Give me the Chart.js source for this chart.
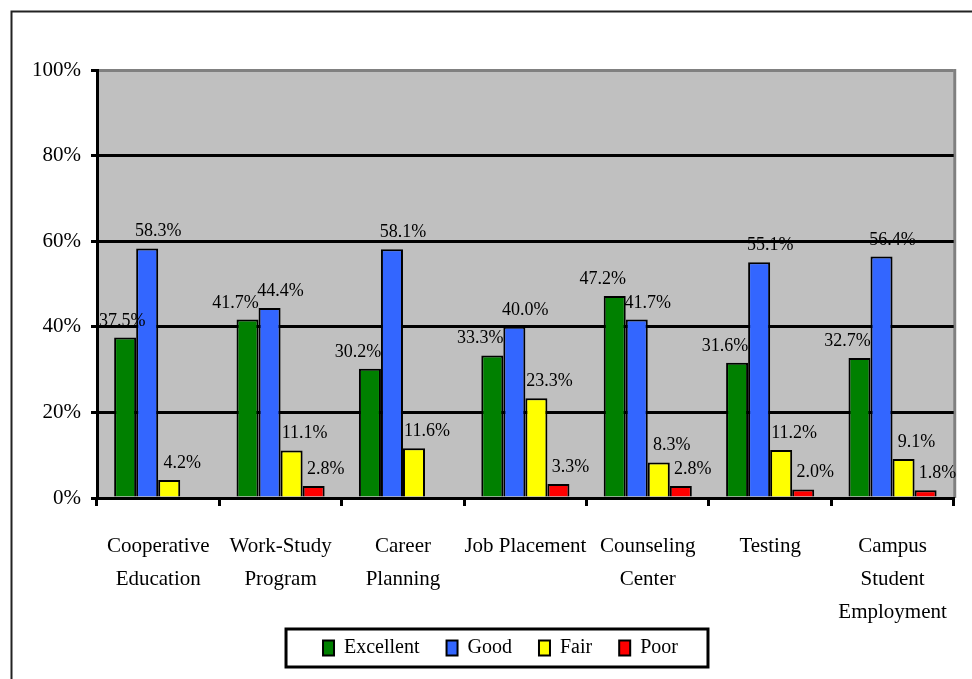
<!DOCTYPE html>
<html lang="en">
<head>
  <meta charset="UTF-8">
  <title>Service Ratings</title>
  <script src="https://cdn.jsdelivr.net/npm/chart.js"></script>
  <style>
    html, body { margin: 0; padding: 0; background: #fff; }
    canvas { display: block; }
  </style>
</head>
<body>
  <canvas id="ratingChart" width="972" height="679"></canvas>

  <script>
    const categories = [
      ['Cooperative', 'Education'],
      ['Work-Study', 'Program'],
      ['Career', 'Planning'],
      'Job Placement',
      ['Counseling', 'Center'],
      'Testing',
      ['Campus', 'Student', 'Employment']
    ];
    const excellent = [37.5, 41.7, 30.2, 33.3, 47.2, 31.6, 32.7];
    const good = [58.3, 44.4, 58.1, 40.0, 41.7, 55.1, 56.4];
    const fair = [4.2, 11.1, 11.6, 23.3, 8.3, 11.2, 9.1];
    const poor = [null, 2.8, null, 3.3, 2.8, 2.0, 1.8];
    const yMax = 100;
    const yStep = 20;

    const serif = '"Liberation Serif", "Times New Roman", serif';

    // gray plot area and the thin outer frame
    const backdrop = {
      id: 'backdrop',
      beforeDraw(chart) {
        const { ctx, chartArea: a } = chart;
        ctx.save();
        ctx.fillStyle = '#c0c0c0';
        ctx.fillRect(a.left, a.top, a.right - a.left, a.bottom - a.top);
        ctx.strokeStyle = '#222';
        ctx.lineWidth = 2;
        ctx.beginPath();
        ctx.moveTo(11.5, chart.height);
        ctx.lineTo(11.5, 11.5);
        ctx.lineTo(chart.width, 11.5);
        ctx.stroke();
        ctx.strokeStyle = '#808080';
        ctx.lineWidth = 3;
        ctx.beginPath();
        ctx.moveTo(a.right + 1, a.top - 1);
        ctx.lineTo(a.right + 1, a.bottom);
        ctx.stroke();
        ctx.restore();
      }
    };

    // nudge the legend up into the space under the axis labels
    const legendNudge = {
      id: 'legendNudge',
      afterLayout(chart) {
        const lg = chart.legend;
        lg.left += 11; lg.right += 11;
        lg.top -= 13; lg.bottom -= 13;
      }
    };

    // value labels above bars
    const valueLabels = {
      id: 'valueLabels',
      afterDatasetsDraw(chart) {
        const { ctx, chartArea: a } = chart;
        ctx.save();
        ctx.font = '18px ' + serif;
        ctx.fillStyle = '#000';
        ctx.textBaseline = 'alphabetic';
        ctx.textAlign = 'left';
        chart.data.datasets.forEach((ds, i) => {
          chart.getDatasetMeta(i).data.forEach((bar, j) => {
            const v = ds.data[j];
            if (v == null) return;
            const txt = v.toFixed(1) + '%';
            const w = ctx.measureText(txt).width;
            let x = bar.x + ds.labelShift - w / 2;
            if (x < a.left + 2) x = a.left + 2;
            ctx.fillText(txt, x, bar.y - 12);
          });
        });
        ctx.restore();
      }
    };

    // black frame round the legend
    const legendFrame = {
      id: 'legendFrame',
      afterDraw(chart) {
        const hb = chart.legend.legendHitBoxes;
        if (!hb || !hb.length) return;
        const l = Math.min(...hb.map(b => b.left));
        const r = Math.max(...hb.map(b => b.left + b.width));
        const mid = hb[0].top + hb[0].height / 2;
        const ctx = chart.ctx;
        ctx.save();
        ctx.strokeStyle = '#000';
        ctx.lineWidth = 3;
        ctx.strokeRect(l - 37, mid - 19, r - l + 67, 38);
        ctx.restore();
      }
    };

    const barStyle = {
      borderColor: '#000',
      borderWidth: 2,
      borderSkipped: 'start',
      categoryPercentage: 0.72,
      barPercentage: 1
    };

    new Chart(document.getElementById('ratingChart'), {
      type: 'bar',
      data: {
        labels: categories,
        datasets: [
          { label: 'Excellent', data: excellent, backgroundColor: '#008000', labelShift: -12, ...barStyle },
          { label: 'Good', data: good, backgroundColor: '#3366ff', labelShift: 11, ...barStyle },
          { label: 'Fair', data: fair, backgroundColor: '#ffff00', labelShift: 13, ...barStyle },
          { label: 'Poor', data: poor, backgroundColor: '#ff0000', labelShift: 12, ...barStyle }
        ]
      },
      options: {
        responsive: false,
        animation: false,
        layout: { padding: { left: 24, right: 17, top: 70, bottom: 0 } },
        plugins: {
          legend: {
            position: 'bottom',
            maxHeight: 55,
            labels: {
              color: '#000',
              font: { family: serif, size: 20 },
              boxWidth: 11,
              boxHeight: 15,
              padding: 27
            }
          },
          tooltip: { enabled: false }
        },
        scales: {
          x: {
            afterFit(scale) { scale.height = 126; },
            grid: {
              offset: true,
              drawOnChartArea: false,
              color: '#000',
              lineWidth: 3,
              tickLength: 8
            },
            border: { color: '#000', width: 3 },
            ticks: {
              color: '#000',
              padding: 24,
              maxRotation: 0,
              autoSkip: false,
              font: { family: serif, size: 21, lineHeight: 1.57 }
            }
          },
          y: {
            min: 0,
            max: yMax,
            afterFit(scale) { scale.width = 73; },
            grid: {
              color: c => (c.tick && c.tick.value === yMax ? '#808080' : '#000'),
              tickColor: '#000',
              lineWidth: 3,
              tickLength: 6
            },
            border: { color: '#000', width: 3 },
            ticks: {
              stepSize: yStep,
              color: '#000',
              padding: 10,
              font: { family: serif, size: 21 },
              callback: v => v + '%'
            }
          }
        }
      },
      plugins: [backdrop, legendNudge, valueLabels, legendFrame]
    });
  </script>
</body>
</html>
